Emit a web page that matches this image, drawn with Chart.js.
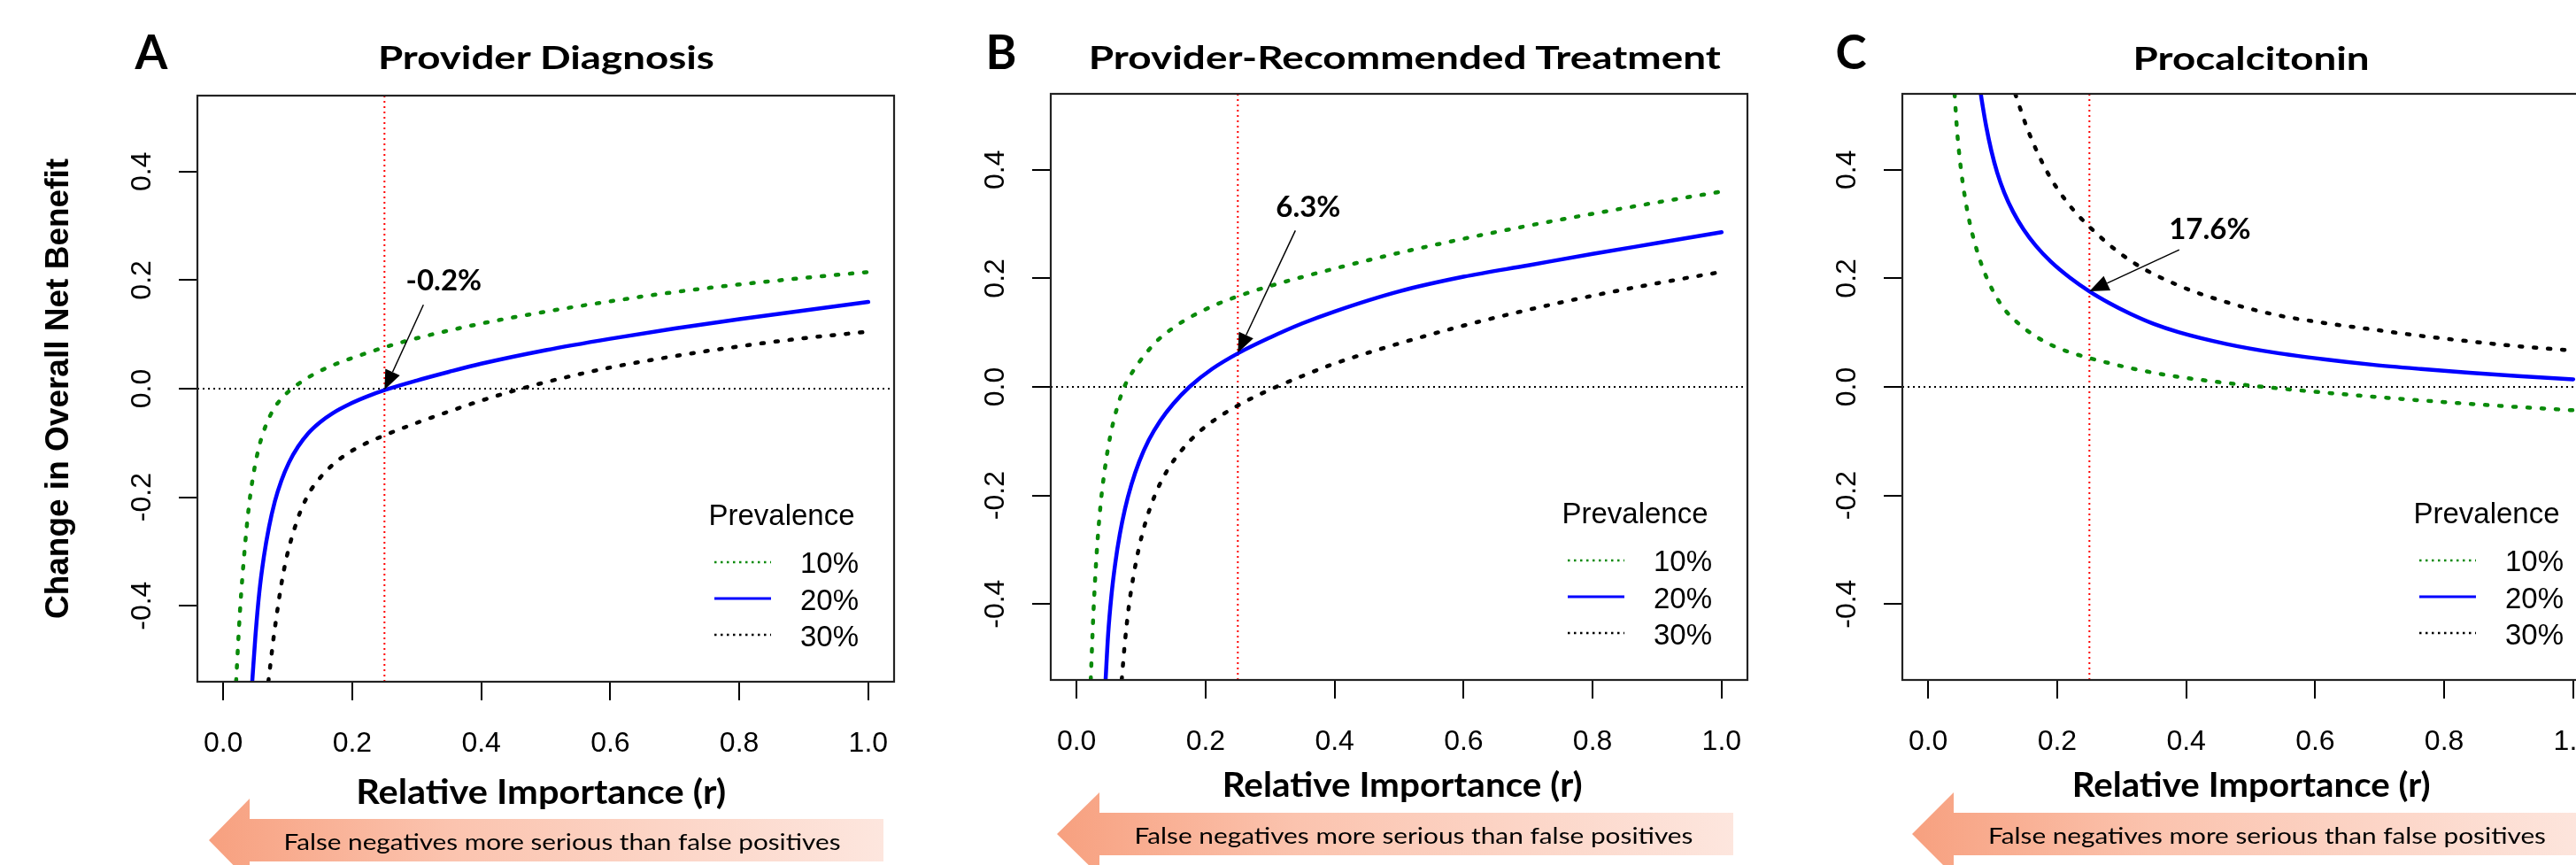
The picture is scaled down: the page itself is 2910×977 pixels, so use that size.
<!DOCTYPE html>
<html>
<head>
<meta charset="utf-8">
<script src="https://cdn.jsdelivr.net/npm/chart.js@4.4.1/dist/chart.umd.min.js"></script>
<style>
  html, body { margin:0; padding:0; background:#ffffff; }
  body { width:2910px; height:977px; overflow:hidden; position:relative; }
  canvas.panel { position:absolute; top:0; }
  .band { position:absolute; }
  .txt { position:absolute; left:0; top:0; white-space:nowrap; color:#000; line-height:1.2; }
</style>
</head>
<body>
<canvas id="cA" class="panel" width="1040" height="977" style="left:0px"></canvas>
<canvas id="cB" class="panel" width="1040" height="977" style="left:964px"></canvas>
<canvas id="cC" class="panel" width="1040" height="977" style="left:1926px"></canvas>
<script>
// ---------- labels / ticks ----------
const xTicks = [0.0, 0.2, 0.4, 0.6, 0.8, 1.0];
const yTicks = [-0.4, -0.2, 0.0, 0.2, 0.4];
const xLimits = [-0.04, 1.04];
const yLimits = [-0.54, 0.54];
const prevalenceLabels = ['10%', '20%', '30%'];
const legendTitle = 'Prevalence';
const panelLetters = ['A', 'B', 'C'];
const panelTitles = ['Provider Diagnosis', 'Provider-Recommended Treatment', 'Procalcitonin'];
const xAxisTitle = 'Relative Importance (r)';
const yAxisTitle = 'Change in Overall Net Benefit';
const bandText = 'False negatives more serious than false positives';
const refR = 0.25;
const refZero = 0.0;
const annotValues = [-0.002, 0.063, 0.176];
const annotLabels = ['-0.2%', '6.3%', '17.6%'];

// ---------- Panel A: Provider Diagnosis ----------
const rA10  = [0.020, 0.026, 0.033, 0.040, 0.048, 0.056, 0.066, 0.078, 0.092, 0.111, 0.141, 0.180, 0.206, 0.252, 0.300, 0.400, 0.500, 0.600, 0.700, 0.800, 0.900, 1.000];
const nbA10 = [-0.540, -0.410, -0.300, -0.215, -0.150, -0.105, -0.068, -0.038, -0.016, 0.004, 0.027, 0.048, 0.059, 0.077, 0.093, 0.120, 0.142, 0.161, 0.178, 0.192, 0.204, 0.215];
const rA20  = [0.045, 0.050, 0.056, 0.063, 0.071, 0.080, 0.090, 0.102, 0.116, 0.132, 0.150, 0.170, 0.195, 0.222, 0.252, 0.300, 0.350, 0.400, 0.500, 0.600, 0.700, 0.800, 0.900, 1.000];
const nbA20 = [-0.540, -0.455, -0.375, -0.310, -0.255, -0.208, -0.170, -0.136, -0.107, -0.082, -0.062, -0.045, -0.029, -0.015, -0.002, 0.015, 0.031, 0.046, 0.071, 0.092, 0.111, 0.128, 0.144, 0.160];
const rA30  = [0.070, 0.079, 0.094, 0.114, 0.132, 0.151, 0.175, 0.206, 0.252, 0.300, 0.350, 0.400, 0.450, 0.500, 0.600, 0.700, 0.800, 0.900, 1.000];
const nbA30 = [-0.540, -0.451, -0.335, -0.245, -0.195, -0.163, -0.135, -0.110, -0.085, -0.063, -0.042, -0.022, -0.004, 0.012, 0.039, 0.060, 0.078, 0.093, 0.105];

// ---------- Panel B: Provider-Recommended Treatment ----------
const rB10  = [0.022, 0.026, 0.031, 0.037, 0.044, 0.052, 0.062, 0.074, 0.088, 0.105, 0.125, 0.150, 0.180, 0.215, 0.250, 0.300, 0.400, 0.500, 0.600, 0.700, 0.800, 0.900, 1.000];
const nbB10 = [-0.540, -0.420, -0.310, -0.220, -0.150, -0.092, -0.042, 0.000, 0.030, 0.058, 0.085, 0.109, 0.131, 0.151, 0.167, 0.186, 0.218, 0.247, 0.273, 0.297, 0.319, 0.340, 0.360];
const rB20  = [0.045, 0.049, 0.054, 0.060, 0.067, 0.075, 0.085, 0.097, 0.112, 0.130, 0.150, 0.175, 0.210, 0.252, 0.300, 0.350, 0.400, 0.500, 0.600, 0.700, 0.800, 0.900, 1.000];
const nbB20 = [-0.540, -0.455, -0.385, -0.325, -0.272, -0.225, -0.180, -0.138, -0.098, -0.062, -0.031, 0.000, 0.033, 0.063, 0.091, 0.117, 0.139, 0.176, 0.203, 0.224, 0.245, 0.265, 0.285];
const rB30  = [0.070, 0.075, 0.081, 0.088, 0.097, 0.108, 0.122, 0.140, 0.162, 0.190, 0.220, 0.252, 0.300, 0.350, 0.400, 0.500, 0.600, 0.700, 0.800, 0.900, 1.000];
const nbB30 = [-0.540, -0.470, -0.405, -0.350, -0.295, -0.245, -0.198, -0.155, -0.118, -0.083, -0.056, -0.033, -0.005, 0.020, 0.043, 0.080, 0.113, 0.142, 0.168, 0.191, 0.212];

// ---------- Panel C: Procalcitonin ----------
const rC10  = [0.041, 0.045, 0.050, 0.056, 0.064, 0.074, 0.086, 0.100, 0.117, 0.138, 0.163, 0.195, 0.230, 0.270, 0.320, 0.380, 0.450, 0.520, 0.600, 0.700, 0.800, 0.900, 1.000];
const nbC10 = [0.540, 0.470, 0.410, 0.357, 0.305, 0.258, 0.215, 0.178, 0.145, 0.119, 0.096, 0.075, 0.060, 0.047, 0.033, 0.020, 0.009, 0.000, -0.009, -0.019, -0.028, -0.036, -0.043];
const rC20  = [0.081, 0.083, 0.090, 0.098, 0.107, 0.118, 0.132, 0.148, 0.167, 0.190, 0.220, 0.250, 0.280, 0.313, 0.350, 0.388, 0.463, 0.538, 0.613, 0.688, 0.764, 0.839, 0.914, 1.000];
const nbC20 = [0.545, 0.529, 0.480, 0.435, 0.395, 0.358, 0.322, 0.290, 0.260, 0.231, 0.201, 0.176, 0.155, 0.135, 0.116, 0.101, 0.079, 0.063, 0.051, 0.041, 0.033, 0.026, 0.020, 0.014];
const rC30  = [0.135, 0.155, 0.185, 0.215, 0.250, 0.313, 0.388, 0.463, 0.538, 0.613, 0.688, 0.764, 0.839, 0.914, 1.000];
const nbC30 = [0.540, 0.472, 0.395, 0.341, 0.295, 0.233, 0.187, 0.156, 0.133, 0.118, 0.106, 0.094, 0.084, 0.075, 0.067];

// ---------- styles ----------
const seriesStyles = [
  { color: '#0A8A0A', width: 4.5, dash: [3, 13], legendWidth: 2.5, legendDash: [2.5, 4.5] },
  { color: '#0000FF', width: 4.5, dash: [],      legendWidth: 3,   legendDash: [] },
  { color: '#000000', width: 4.5, dash: [3, 13], legendWidth: 2.5, legendDash: [2.5, 4.5] }
];

const framePlugin = {
  id: 'frame',
  afterDatasetsDraw(chart) {
    const { ctx, chartArea: ca } = chart;
    ctx.save();
    ctx.strokeStyle = '#222';
    ctx.lineWidth = 2.2;
    ctx.setLineDash([]);
    ctx.strokeRect(ca.left, ca.top, ca.right - ca.left, ca.bottom - ca.top);
    ctx.restore();
  }
};

const legendPlugin = {
  id: 'rlegend',
  afterDatasetsDraw(chart) {
    const { ctx, chartArea: ca } = chart;
    ctx.save();
    ctx.fillStyle = '#000';
    ctx.font = '33px "Liberation Sans", Arial, sans-serif';
    ctx.textBaseline = 'alphabetic';
    ctx.textAlign = 'center';
    ctx.fillText(legendTitle, ca.right - 127, ca.bottom - 177);
    const textBase = [-123, -81, -40];
    const lineY = [-135, -94, -53];
    seriesStyles.forEach((s, i) => {
      ctx.strokeStyle = s.color;
      ctx.lineWidth = s.legendWidth;
      ctx.lineCap = 'butt';
      ctx.setLineDash(s.legendDash);
      ctx.beginPath();
      ctx.moveTo(ca.right - 203, ca.bottom + lineY[i]);
      ctx.lineTo(ca.right - 139, ca.bottom + lineY[i]);
      ctx.stroke();
      ctx.setLineDash([]);
      ctx.textAlign = 'left';
      ctx.fillText(prevalenceLabels[i], ca.right - 106, ca.bottom + textBase[i]);
    });
    ctx.restore();
  }
};

const annotPlugin = {
  id: 'annot',
  afterDatasetsDraw(chart, args, opts) {
    const { ctx } = chart;
    const xs = chart.scales.x, ys = chart.scales.y;
    const tx = xs.getPixelForValue(opts.r), ty = ys.getPixelForValue(opts.value);
    const sx = tx + opts.tail[0], sy = ty + opts.tail[1];
    const ang = Math.atan2(ty - sy, tx - sx);
    const hl = 22, hw = 9;
    const bx = tx - hl * Math.cos(ang), by = ty - hl * Math.sin(ang);
    ctx.save();
    ctx.strokeStyle = '#000'; ctx.fillStyle = '#000';
    ctx.lineWidth = 1.5; ctx.setLineDash([]);
    ctx.beginPath(); ctx.moveTo(sx, sy); ctx.lineTo(bx, by); ctx.stroke();
    ctx.beginPath();
    ctx.moveTo(tx, ty);
    ctx.lineTo(bx + hw * Math.sin(ang), by - hw * Math.cos(ang));
    ctx.lineTo(bx - hw * Math.sin(ang), by + hw * Math.cos(ang));
    ctx.closePath(); ctx.fill();
    ctx.font = 'bold 33px Lato, "Liberation Sans", sans-serif';
    ctx.textAlign = 'center'; ctx.textBaseline = 'alphabetic';
    ctx.fillText(opts.text, tx + opts.label[0], ty + opts.label[1]);
    ctx.restore();
  }
};

function buildPanel(idx, canvasId, rs, nbs, geo) {
  const datasets = rs.map((r, k) => ({
    data: r.map((x, i) => ({ x: x, y: nbs[k][i] })),
    showLine: true, pointRadius: 0, pointHoverRadius: 0,
    borderColor: seriesStyles[k].color, borderWidth: seriesStyles[k].width,
    borderDash: seriesStyles[k].dash, borderCapStyle: 'round',
    cubicInterpolationMode: 'monotone', fill: false
  }));
  datasets.push({
    data: [{ x: xLimits[0], y: refZero }, { x: xLimits[1], y: refZero }],
    showLine: true, pointRadius: 0, borderColor: '#000', borderWidth: 2,
    borderDash: [2, 4], borderCapStyle: 'butt', fill: false
  });
  datasets.push({
    data: [{ x: refR, y: yLimits[0] }, { x: refR, y: yLimits[1] }],
    showLine: true, pointRadius: 0, borderColor: '#FF0000', borderWidth: 2,
    borderDash: [2, 4], borderCapStyle: 'butt', fill: false
  });

  return new Chart(document.getElementById(canvasId), {
    type: 'scatter',
    data: { datasets },
    plugins: [framePlugin, legendPlugin, annotPlugin],
    options: {
      responsive: false, animation: false, devicePixelRatio: 1,
      events: [],
      layout: { padding: { top: geo.top, right: 30, left: 0, bottom: 0 } },
      plugins: {
        legend: { display: false }, tooltip: { enabled: false },
        annot: { r: refR, value: annotValues[idx], text: annotLabels[idx], tail: geo.tail, label: geo.label }
      },
      scales: {
        x: {
          type: 'linear', min: xLimits[0], max: xLimits[1],
          afterBuildTicks: s => { s.ticks = xTicks.map(v => ({ value: v })); },
          afterFit: s => { s.height = geo.xh; },
          grid: { drawOnChartArea: false, drawTicks: true, tickLength: 21, color: '#000', lineWidth: 2 },
          border: { display: false },
          ticks: {
            font: { family: '"Liberation Sans", Arial, sans-serif', size: 32 }, color: '#000',
            padding: 30, minRotation: 0, maxRotation: 0,
            callback: v => Number(v).toFixed(1)
          },
          title: { display: false }
        },
        y: {
          type: 'linear', min: yLimits[0], max: yLimits[1],
          afterBuildTicks: s => { s.ticks = yTicks.map(v => ({ value: v })); },
          afterFit: s => { s.width = 223; },
          grid: { drawOnChartArea: false, drawTicks: true, tickLength: 21, color: '#000', lineWidth: 2 },
          border: { display: false },
          ticks: {
            font: { family: '"Liberation Sans", Arial, sans-serif', size: 32 }, color: '#000',
            padding: 13, minRotation: 90, maxRotation: 90, crossAlign: 'center',
            callback: v => Number(v).toFixed(1)
          },
          title: {
            display: idx === 0, text: yAxisTitle, color: '#000',
            font: { family: '"Liberation Sans", Arial, sans-serif', weight: 'bold', size: 37 },
            padding: { top: 45, bottom: 0 }
          }
        }
      }
    }
  });
}

buildPanel(0, 'cA', [rA10, rA20, rA30], [nbA10, nbA20, nbA30], { top: 108, xh: 207, tail: [44, -96], label: [67, -112.5] });
buildPanel(1, 'cB', [rB10, rB20, rB30], [nbB10, nbB20, nbB30], { top: 106, xh: 209, tail: [65, -138], label: [79.5, -153.5] });
buildPanel(2, 'cC', [rC10, rC20, rC30], [nbC10, nbC20, nbC30], { top: 106, xh: 209, tail: [101.5, -47], label: [136, -59] });

// ---------- decorations (bands and text) ----------
function makeBand(tipX, baseX, rightX, headTop, bandTop, bandBot, headBot) {
  const d = document.createElement('div');
  d.className = 'band';
  const w = rightX - tipX, h = headBot - headTop;
  d.style.left = tipX + 'px'; d.style.top = headTop + 'px';
  d.style.width = w + 'px'; d.style.height = h + 'px';
  const hb = baseX - tipX, t = bandTop - headTop, b = bandBot - headTop, c = h / 2;
  d.style.clipPath = `polygon(0px ${c}px, ${hb}px 0px, ${hb}px ${t}px, ${w}px ${t}px, ${w}px ${b}px, ${hb}px ${b}px, ${hb}px ${h}px)`;
  d.style.background = 'linear-gradient(to right, #F7A07F 0%, #FBC3AE 35%, #FDE6DE 100%)';
  document.body.appendChild(d);
}
function placeText(txt, cx, baseline, size, weight, targetW) {
  const d = document.createElement('div');
  d.className = 'txt';
  d.style.font = `${weight} ${size}px Lato, "Liberation Sans", sans-serif`;
  d.style.lineHeight = '1.2';
  const s = document.createElement('span'); s.textContent = txt;
  const m = document.createElement('span');
  m.style.cssText = 'display:inline-block;width:0;height:0;vertical-align:baseline';
  d.appendChild(s); d.appendChild(m);
  document.body.appendChild(d);
  const w = s.getBoundingClientRect().width;
  const bl = m.getBoundingClientRect().top;
  const sx = targetW ? targetW / w : 1;
  d.style.left = (cx - w / 2) + 'px';
  d.style.top = (baseline - bl) + 'px';
  d.style.transformOrigin = `${w / 2}px 0px`;
  d.style.transform = `scaleX(${sx})`;
}

makeBand(236, 282, 998, 902, 925, 973, 996);
makeBand(1194, 1242, 1958, 895, 918, 966, 989);
makeBand(2160, 2207, 2930, 895, 918, 966, 989);

placeText(panelLetters[0], 171, 78, 53, 'bold', null);
placeText(panelLetters[1], 1131, 78, 53, 'bold', null);
placeText(panelLetters[2], 2091, 78, 53, 'bold', null);
placeText(panelTitles[0], 617, 78, 37, 'bold', 380);
placeText(panelTitles[1], 1587, 78, 37, 'bold', 714);
placeText(panelTitles[2], 2543, 79, 37, 'bold', 267);
placeText(xAxisTitle, 611, 908, 39, 'bold', 418);
placeText(xAxisTitle, 1584, 900, 39, 'bold', 407);
placeText(xAxisTitle, 2543, 900, 39, 'bold', 405);
placeText(bandText, 635, 960, 25.5, 'normal', 629);
placeText(bandText, 1597, 953, 25.5, 'normal', 631);
placeText(bandText, 2561, 953, 25.5, 'normal', 630);
</script>
</body>
</html>
